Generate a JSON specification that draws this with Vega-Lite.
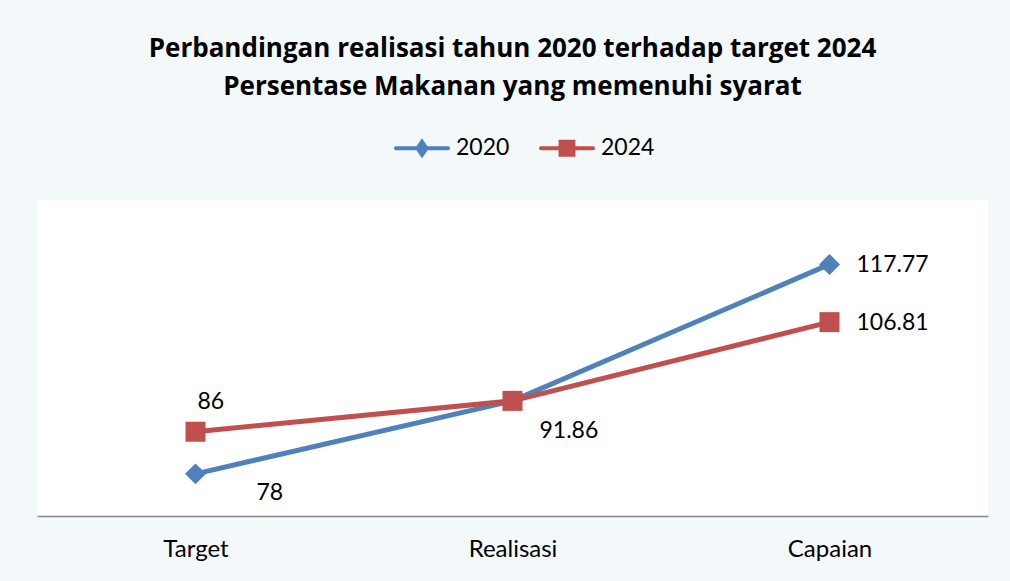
{
  "$schema": "https://vega.github.io/schema/vega-lite/v6.json",
  "width": 951,
  "height": 316,
  "autosize": {"type": "none"},
  "padding": {"left": 37, "top": 200, "right": 22, "bottom": 65},
  "background": "#F3F8FA",
  "config": {"view": {"fill": "white", "stroke": null}, "font": "Lato"},
  "title": {
    "text": ["Perbandingan realisasi tahun 2020 terhadap target 2024", "Persentase Makanan yang memenuhi syarat"],
    "fontSize": 26,
    "fontWeight": "bold",
    "font": "Open Sans",
    "anchor": "middle",
    "lineHeight": 38,
    "offset": 10,
    "dy": -8,
    "color": "black"
  },
  "data": {
    "values": [
      {"series": "2020", "cat": "Target", "value": 78},
      {"series": "2020", "cat": "Realisasi", "value": 91.86},
      {"series": "2020", "cat": "Capaian", "value": 117.77},
      {"series": "2024", "cat": "Target", "value": 86},
      {"series": "2024", "cat": "Realisasi", "value": 91.86},
      {"series": "2024", "cat": "Capaian", "value": 106.81}
    ]
  },
  "encoding": {
    "x": {
      "field": "cat",
      "type": "nominal",
      "sort": ["Target", "Realisasi", "Capaian"],
      "scale": {"type": "point", "padding": 0.5},
      "axis": {
        "title": null,
        "labelAngle": 0,
        "ticks": false,
        "grid": false,
        "domainColor": "#868686",
        "domainWidth": 1.5,
        "labelFontSize": 24,
        "labelFont": "Lato",
        "labelColor": "black",
        "labelPadding": 21
      }
    },
    "y": {"field": "value", "type": "quantitative", "scale": {"domain": [70, 130]}, "axis": null},
    "color": {
      "field": "series",
      "type": "nominal",
      "scale": {"domain": ["2020", "2024"], "range": ["#4F81BD", "#C0504D"]},
      "legend": {
        "orient": "none",
        "legendX": 355,
        "legendY": -82,
        "direction": "horizontal",
        "title": null,
        "symbolType": "M-0.93,0H0.93M0,-0.23L0.16,0L0,0.23L-0.16,0Z",
        "symbolSize": 3136,
        "symbolStrokeWidth": 4,
        "labelFontSize": 23,
        "labelFont": "Lato",
        "labelColor": "black",
        "labelOffset": 4,
        "columnPadding": 22,
        "encode": {
          "symbols": {
            "update": {
              "shape": {"signal": "datum.value === '2020' ? 'M-0.93,0H0.93M0,-0.23L0.16,0L0,0.23L-0.16,0Z' : 'M-0.93,0H0.93M-0.23,-0.23H0.23V0.23H-0.23Z'"},
              "fill": {"signal": "datum.value === '2020' ? '#4F81BD' : '#C0504D'"},
              "stroke": {"signal": "datum.value === '2020' ? '#4F81BD' : '#C0504D'"},
              "strokeWidth": {"value": 4},
              "strokeCap": {"value": "round"},
              "opacity": {"value": 1}
            }
          }
        }
      }
    }
  },
  "layer": [
    {"mark": {"type": "line", "strokeWidth": 5}},
    {
      "mark": {"type": "point", "filled": true, "opacity": 1},
      "encoding": {
        "shape": {"condition": {"test": "datum.series === '2024'", "value": "square"}, "value": "diamond"},
        "size": {"condition": {"test": "datum.series === '2024'", "value": 400}, "value": 440}
      }
    },
    {
      "transform": [{"filter": "datum.series === '2020' && datum.cat === 'Target'"}],
      "mark": {"type": "text", "align": "left", "baseline": "middle", "dx": 61, "dy": 19, "fontSize": 23, "font": "Lato", "color": "black"},
      "encoding": {"text": {"field": "value", "type": "quantitative"}, "color": {"value": "black"}}
    },
    {
      "transform": [{"filter": "datum.series === '2020' && datum.cat === 'Realisasi'"}],
      "mark": {"type": "text", "align": "left", "baseline": "middle", "dx": 27, "dy": 30, "fontSize": 23, "font": "Lato", "color": "black"},
      "encoding": {"text": {"field": "value", "type": "quantitative", "format": ".2f"}, "color": {"value": "black"}}
    },
    {
      "transform": [{"filter": "datum.cat === 'Capaian'"}],
      "mark": {"type": "text", "align": "left", "baseline": "middle", "dx": 27, "dy": 1, "fontSize": 23, "font": "Lato", "color": "black"},
      "encoding": {"text": {"field": "value", "type": "quantitative", "format": ".2f"}, "color": {"value": "black"}}
    },
    {
      "transform": [{"filter": "datum.series === '2024' && datum.cat === 'Target'"}],
      "mark": {"type": "text", "align": "left", "baseline": "middle", "dx": 2, "dy": -30, "fontSize": 23, "font": "Lato", "color": "black"},
      "encoding": {"text": {"field": "value", "type": "quantitative"}, "color": {"value": "black"}}
    }
  ]
}
